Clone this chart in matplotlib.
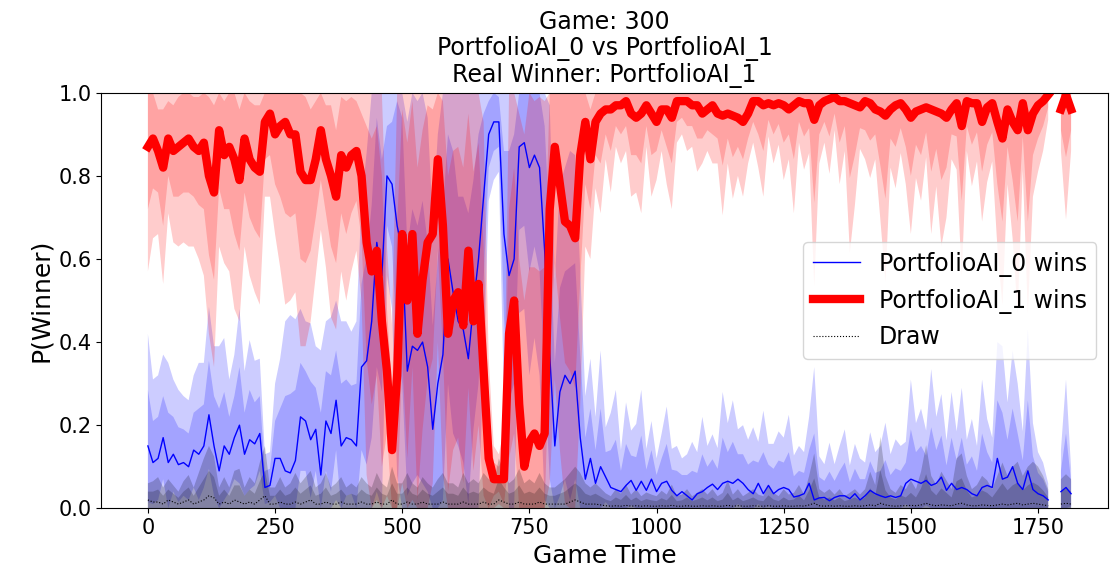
import numpy as np
import matplotlib
matplotlib.use('Agg')
import matplotlib.pyplot as plt

# game time samples (gap at 1780 where no prediction was made)
times = list(range(0, 1780, 10)) + [1780, 1795, 1805, 1815]

# mean P(winner) for PortfolioAI_1
p1_mean = [
    0.87, 0.89, 0.86, 0.82, 0.89, 0.86, 0.87, 0.88, 0.89, 0.87,
    0.86, 0.88, 0.80, 0.76, 0.91, 0.85, 0.87, 0.84, 0.79, 0.89,
    0.84, 0.82, 0.81, 0.93, 0.95, 0.90, 0.92, 0.93, 0.90, 0.90,
    0.81, 0.79, 0.79, 0.84, 0.91, 0.84, 0.80, 0.75, 0.85, 0.82,
    0.85, 0.86, 0.80, 0.64, 0.57, 0.62, 0.45, 0.33, 0.14, 0.32,
    0.66, 0.50, 0.66, 0.42, 0.55, 0.64, 0.66, 0.84, 0.68, 0.42,
    0.50, 0.52, 0.44, 0.62, 0.45, 0.54, 0.33, 0.12, 0.07, 0.07,
    0.07, 0.42, 0.50, 0.25, 0.10, 0.16, 0.18, 0.15, 0.18, 0.72,
    0.87, 0.78, 0.69, 0.68, 0.65, 0.85, 0.93, 0.84, 0.93, 0.95,
    0.96, 0.96, 0.97, 0.97, 0.98, 0.95, 0.94, 0.95, 0.97, 0.95,
    0.93, 0.96, 0.96, 0.94, 0.98, 0.98, 0.98, 0.97, 0.97, 0.95,
    0.96, 0.97, 0.95, 0.945, 0.95, 0.945, 0.94, 0.93, 0.95, 0.98,
    0.98, 0.97, 0.975, 0.97, 0.975, 0.97, 0.96, 0.97, 0.98, 0.975,
    0.975, 0.935, 0.97, 0.98, 0.985, 0.99, 0.98, 0.98, 0.975, 0.97,
    0.965, 0.98, 0.975, 0.96, 0.955, 0.945, 0.96, 0.97, 0.975, 0.96,
    0.94, 0.955, 0.96, 0.965, 0.96, 0.955, 0.95, 0.94, 0.96, 0.975,
    0.92, 0.98, 0.975, 0.975, 0.93, 0.965, 0.975, 0.93, 0.89, 0.96,
    0.93, 0.91, 0.975, 0.91, 0.95, 0.97, 0.98, 0.995,
    np.nan, 0.96, 0.995, 0.96,
]
p1_sd = [
    0.15, 0.12, 0.10, 0.14, 0.09, 0.11, 0.12, 0.12, 0.13, 0.12,
    0.13, 0.16, 0.19, 0.21, 0.14, 0.13, 0.15, 0.18, 0.17, 0.13,
    0.14, 0.15, 0.16, 0.09, 0.10, 0.12, 0.17, 0.22, 0.20, 0.19,
    0.21, 0.20, 0.17, 0.14, 0.12, 0.13, 0.17, 0.16, 0.14, 0.16,
    0.14, 0.12, 0.15, 0.28, 0.32, 0.30, 0.35, 0.15, 0.15, 0.36,
    0.30, 0.38, 0.32, 0.40, 0.36, 0.33, 0.30, 0.22, 0.30, 0.38,
    0.36, 0.35, 0.38, 0.33, 0.36, 0.34, 0.30, 0.12, 0.04, 0.03,
    0.06, 0.30, 0.32, 0.35, 0.40, 0.42, 0.40, 0.42, 0.40, 0.33,
    0.28, 0.32, 0.34, 0.35, 0.36, 0.30, 0.15, 0.12, 0.08, 0.12,
    0.06, 0.10, 0.05, 0.07, 0.06, 0.10, 0.09, 0.12, 0.05, 0.10,
    0.07, 0.05, 0.09, 0.11, 0.05, 0.04, 0.06, 0.05, 0.08, 0.06,
    0.05, 0.07, 0.06, 0.12, 0.06, 0.10, 0.07, 0.09, 0.06, 0.05,
    0.08, 0.11, 0.04, 0.07, 0.05, 0.09, 0.06, 0.13, 0.05, 0.08,
    0.06, 0.20, 0.07, 0.05, 0.09, 0.04, 0.10, 0.06, 0.18, 0.12,
    0.05, 0.07, 0.09, 0.06, 0.13, 0.20, 0.07, 0.10, 0.06, 0.09,
    0.14, 0.08, 0.11, 0.06, 0.15, 0.09, 0.16, 0.12, 0.06, 0.08,
    0.18, 0.06, 0.10, 0.07, 0.12, 0.09, 0.07, 0.15, 0.20, 0.09,
    0.14, 0.22, 0.08, 0.22, 0.10, 0.08, 0.06, 0.03,
    np.nan, 0.05, 0.15, 0.05,
]

# mean P(winner) for PortfolioAI_0
p0_mean = [
    0.15, 0.11, 0.12, 0.17, 0.11, 0.13, 0.105, 0.11, 0.10, 0.14,
    0.13, 0.15, 0.225, 0.15, 0.09, 0.15, 0.13, 0.17, 0.20, 0.13,
    0.165, 0.155, 0.18, 0.05, 0.055, 0.12, 0.12, 0.09, 0.085, 0.115,
    0.22, 0.21, 0.165, 0.19, 0.08, 0.21, 0.18, 0.26, 0.15, 0.17,
    0.165, 0.15, 0.34, 0.355, 0.45, 0.64, 0.56, 0.80, 0.78, 0.68,
    0.62, 0.33, 0.39, 0.38, 0.40, 0.34, 0.19, 0.30, 0.37, 0.60,
    0.52, 0.45, 0.43, 0.36, 0.49, 0.60, 0.75, 0.90, 0.93, 0.93,
    0.66, 0.56, 0.60, 0.87, 0.88, 0.82, 0.85, 0.82, 0.62, 0.37,
    0.15, 0.28, 0.32, 0.30, 0.33, 0.17, 0.07, 0.12, 0.06, 0.10,
    0.075, 0.05, 0.045, 0.04, 0.055, 0.067, 0.043, 0.065, 0.043, 0.07,
    0.04, 0.06, 0.065, 0.043, 0.03, 0.04, 0.03, 0.02, 0.035, 0.04,
    0.05, 0.058, 0.045, 0.06, 0.065, 0.06, 0.07, 0.06, 0.045, 0.035,
    0.06, 0.035, 0.055, 0.035, 0.045, 0.05, 0.045, 0.027, 0.03, 0.035,
    0.06, 0.02, 0.025, 0.026, 0.018, 0.026, 0.03, 0.03, 0.023, 0.035,
    0.02, 0.03, 0.043, 0.035, 0.03, 0.026, 0.03, 0.026, 0.03, 0.06,
    0.07, 0.065, 0.06, 0.067, 0.055, 0.06, 0.075, 0.043, 0.06, 0.045,
    0.05, 0.045, 0.035, 0.03, 0.05, 0.055, 0.05, 0.12, 0.07, 0.075,
    0.10, 0.06, 0.045, 0.09, 0.045, 0.035, 0.03, 0.02,
    np.nan, 0.04, 0.05, 0.035,
]
p0_sd = [
    0.135, 0.10, 0.10, 0.10, 0.12, 0.09, 0.09, 0.08, 0.08, 0.09,
    0.11, 0.10, 0.13, 0.12, 0.15, 0.13, 0.09, 0.10, 0.14, 0.10,
    0.12, 0.10, 0.09, 0.04, 0.04, 0.09, 0.12, 0.18, 0.19, 0.17,
    0.13, 0.12, 0.14, 0.10, 0.15, 0.12, 0.14, 0.12, 0.15, 0.14,
    0.13, 0.15, 0.20, 0.25, 0.28, 0.30, 0.28, 0.12, 0.15, 0.30,
    0.32, 0.30, 0.33, 0.30, 0.34, 0.30, 0.25, 0.30, 0.35, 0.30,
    0.34, 0.30, 0.32, 0.35, 0.30, 0.30, 0.20, 0.08, 0.07, 0.06,
    0.20, 0.30, 0.30, 0.20, 0.20, 0.25, 0.22, 0.25, 0.30, 0.30,
    0.20, 0.25, 0.25, 0.28, 0.26, 0.20, 0.10, 0.12, 0.08, 0.14,
    0.06, 0.09, 0.12, 0.05, 0.10, 0.06, 0.08, 0.11, 0.05, 0.07,
    0.04, 0.06, 0.09, 0.05, 0.06, 0.04, 0.05, 0.07, 0.05, 0.09,
    0.05, 0.06, 0.05, 0.11, 0.07, 0.10, 0.06, 0.07, 0.06, 0.08,
    0.05, 0.10, 0.05, 0.06, 0.07, 0.06, 0.09, 0.05, 0.06, 0.05,
    0.08, 0.16, 0.05, 0.04, 0.07, 0.04, 0.06, 0.08, 0.04, 0.06,
    0.05, 0.04, 0.07, 0.05, 0.06, 0.09, 0.05, 0.07, 0.06, 0.05,
    0.12, 0.07, 0.09, 0.06, 0.14, 0.08, 0.10, 0.06, 0.11, 0.07,
    0.12, 0.06, 0.09, 0.06, 0.13, 0.08, 0.06, 0.14, 0.16, 0.09,
    0.14, 0.12, 0.07, 0.17, 0.08, 0.05, 0.04, 0.02,
    np.nan, 0.05, 0.13, 0.03,
]

# mean P(draw)
draw_mean = [
    0.02, 0.015, 0.015, 0.01, 0.02, 0.015, 0.01, 0.015, 0.02, 0.01,
    0.015, 0.02, 0.03, 0.025, 0.01, 0.015, 0.01, 0.02, 0.015, 0.01,
    0.015, 0.01, 0.02, 0.03, 0.01, 0.01, 0.015, 0.01, 0.01, 0.015,
    0.01, 0.015, 0.02, 0.01, 0.01, 0.015, 0.01, 0.01, 0.015, 0.01,
    0.01, 0.01, 0.015, 0.01, 0.01, 0.015, 0.01, 0.01, 0.02, 0.01,
    0.01, 0.015, 0.01, 0.01, 0.015, 0.01, 0.01, 0.01, 0.015, 0.01,
    0.01, 0.01, 0.015, 0.01, 0.01, 0.01, 0.015, 0.01, 0.01, 0.02,
    0.015, 0.01, 0.01, 0.015, 0.01, 0.01, 0.01, 0.015, 0.01, 0.01,
    0.01, 0.01, 0.01, 0.015, 0.02, 0.015, 0.01, 0.01, 0.01, 0.008,
    0.006, 0.005, 0.006, 0.005, 0.007, 0.005, 0.006, 0.005, 0.006, 0.005,
    0.005, 0.006, 0.005, 0.007, 0.005, 0.005, 0.006, 0.005, 0.005, 0.006,
    0.005, 0.006, 0.005, 0.005, 0.007, 0.005, 0.006, 0.005, 0.005, 0.006,
    0.005, 0.005, 0.006, 0.005, 0.005, 0.006, 0.005, 0.005, 0.006, 0.005,
    0.008, 0.012, 0.006, 0.005, 0.006, 0.005, 0.006, 0.005, 0.005, 0.006,
    0.005, 0.006, 0.008, 0.006, 0.012, 0.008, 0.006, 0.005, 0.006, 0.006,
    0.007, 0.006, 0.008, 0.012, 0.008, 0.006, 0.008, 0.007, 0.006, 0.01,
    0.012, 0.008, 0.006, 0.006, 0.008, 0.007, 0.006, 0.008, 0.01, 0.008,
    0.01, 0.012, 0.008, 0.01, 0.012, 0.01, 0.008, 0.006,
    np.nan, 0.01, 0.012, 0.01,
]
draw_sd = [
    0.02, 0.025, 0.03, 0.02, 0.025, 0.02, 0.015, 0.025, 0.03, 0.02,
    0.035, 0.05, 0.06, 0.05, 0.02, 0.03, 0.02, 0.035, 0.04, 0.02,
    0.03, 0.025, 0.045, 0.06, 0.02, 0.02, 0.03, 0.02, 0.025, 0.035,
    0.025, 0.03, 0.035, 0.02, 0.025, 0.035, 0.02, 0.025, 0.03, 0.02,
    0.025, 0.02, 0.03, 0.025, 0.02, 0.035, 0.025, 0.02, 0.04, 0.025,
    0.025, 0.035, 0.025, 0.02, 0.03, 0.025, 0.02, 0.03, 0.035, 0.025,
    0.025, 0.02, 0.035, 0.025, 0.03, 0.025, 0.035, 0.03, 0.025, 0.05,
    0.035, 0.025, 0.03, 0.04, 0.025, 0.03, 0.025, 0.035, 0.025, 0.02,
    0.02, 0.025, 0.03, 0.035, 0.04, 0.035, 0.025, 0.02, 0.025, 0.02,
    0.015, 0.012, 0.02, 0.015, 0.025, 0.014, 0.02, 0.012, 0.016, 0.014,
    0.012, 0.018, 0.014, 0.025, 0.012, 0.014, 0.02, 0.012, 0.016, 0.02,
    0.014, 0.02, 0.012, 0.016, 0.03, 0.014, 0.02, 0.012, 0.016, 0.02,
    0.014, 0.012, 0.025, 0.016, 0.012, 0.02, 0.014, 0.016, 0.025, 0.014,
    0.035, 0.06, 0.02, 0.016, 0.02, 0.014, 0.02, 0.012, 0.016, 0.02,
    0.014, 0.02, 0.04, 0.025, 0.08, 0.035, 0.02, 0.016, 0.025, 0.02,
    0.03, 0.02, 0.04, 0.07, 0.035, 0.025, 0.04, 0.03, 0.02, 0.055,
    0.06, 0.035, 0.02, 0.025, 0.035, 0.03, 0.02, 0.035, 0.05, 0.035,
    0.045, 0.05, 0.035, 0.045, 0.05, 0.045, 0.035, 0.02,
    np.nan, 0.03, 0.035, 0.03,
]

t = np.array(times, dtype=float)

fig, ax = plt.subplots(figsize=(11.11, 5.73), dpi=100)
fig.subplots_adjust(left=0.091, right=0.9975, top=0.838, bottom=0.113)

series = [
    (p0_mean, p0_sd, 'b', 1.0, '-', 'PortfolioAI_0 wins'),
    (p1_mean, p1_sd, 'r', 6.0, '-', 'PortfolioAI_1 wins'),
    (draw_mean, draw_sd, 'k', 0.8, ':', 'Draw'),
]
for mean, sd, col, lw, ls, lab in series:
    m = np.array(mean)
    s = np.array(sd)
    # two bands: +-1 sd and +-2 sd
    ax.fill_between(t, np.clip(m - 2 * s, 0, 1), np.clip(m + 2 * s, 0, 1),
                    color=col, alpha=0.2, linewidth=0)
    ax.fill_between(t, np.clip(m - s, 0, 1), np.clip(m + s, 0, 1),
                    color=col, alpha=0.2, linewidth=0)
    ax.plot(t, m, color=col, linewidth=lw, linestyle=ls, label=lab)

ax.set_xlim(-92, 1888)
ax.set_ylim(0, 1)
ax.set_xticks([0, 250, 500, 750, 1000, 1250, 1500, 1750])
ax.tick_params(labelsize=15)
ax.set_xlabel('Game Time', fontsize=18)
ax.set_ylabel('P(Winner)', fontsize=18)
ax.set_title('Game: 300\nPortfolioAI_0 vs PortfolioAI_1\nReal Winner: PortfolioAI_1',
             fontsize=17, linespacing=1.1, pad=8)
ax.legend(loc='center right', fontsize=17)

plt.savefig('out.png', dpi=100)
